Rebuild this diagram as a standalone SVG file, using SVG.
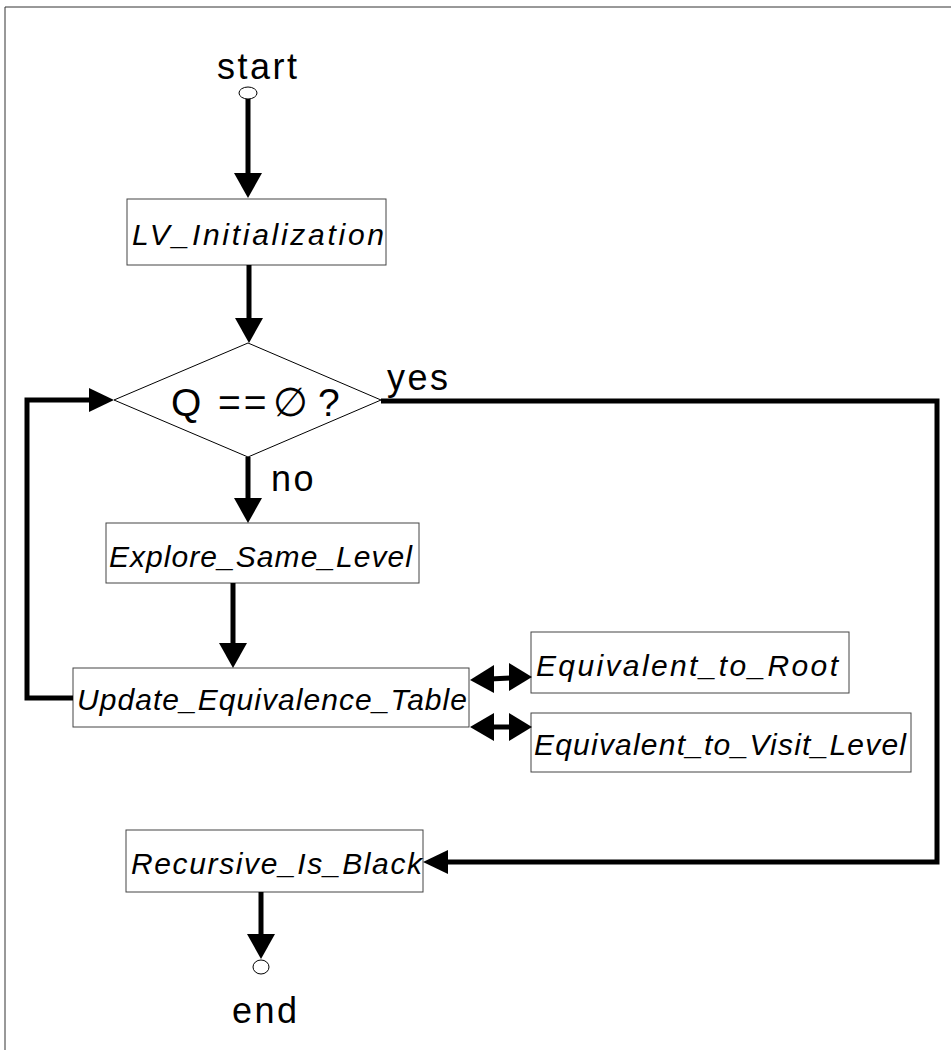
<svg xmlns="http://www.w3.org/2000/svg" width="951" height="1050" viewBox="0 0 951 1050">
<style>
.box{fill:#fff;stroke:#444;stroke-width:1}
.lbl{font-family:"Liberation Sans",Arial,sans-serif;font-style:italic;font-size:30px;fill:#000}
.plain{font-family:"Liberation Sans",Arial,sans-serif;font-size:36px;letter-spacing:2.5px;fill:#000}
.conn{fill:none;stroke:#000;stroke-width:5}
.head{fill:#000;stroke:none}
</style>
<rect x="0" y="0" width="951" height="1050" fill="#fff"/>
<path d="M5 1050 V7 H951" fill="none" stroke="#333" stroke-width="1"/>
<g id="start">
<text class="plain" x="217" y="79">start</text>
<ellipse cx="248" cy="93" rx="9" ry="6" fill="#fff" stroke="#000" stroke-width="1"/>
</g>
<g id="lv_init">
<rect class="box" x="127" y="199" width="259" height="66"/>
<text class="lbl" x="132" y="245" textLength="252" lengthAdjust="spacing">LV_Initialization</text>
</g>
<g id="decision">
<polygon points="248,343 381,400 248,457 114,400" fill="#fff" stroke="#000" stroke-width="1"/>
<text class="plain" y="416" style="font-size:39px;letter-spacing:0"><tspan x="171">Q</tspan><tspan x="218" style="letter-spacing:3px">==</tspan><tspan x="273" style="font-family:'DejaVu Sans',sans-serif;font-size:40px;font-weight:200">∅</tspan><tspan x="318">?</tspan></text>
</g>
<g id="explore">
<rect class="box" x="106" y="523" width="313" height="60"/>
<text class="lbl" x="109" y="567" textLength="303" lengthAdjust="spacing">Explore_Same_Level</text>
</g>
<g id="update">
<rect class="box" x="73" y="668" width="396" height="59"/>
<text class="lbl" x="77" y="710" textLength="390" lengthAdjust="spacing">Update_Equivalence_Table</text>
</g>
<g id="eq_root">
<rect class="box" x="531" y="632" width="318" height="61"/>
<text class="lbl" x="536" y="676" textLength="302" lengthAdjust="spacing">Equivalent_to_Root</text>
</g>
<g id="eq_visit">
<rect class="box" x="531" y="713" width="380" height="59"/>
<text class="lbl" x="534" y="755" textLength="372" lengthAdjust="spacing">Equivalent_to_Visit_Level</text>
</g>
<g id="recursive">
<rect class="box" x="126" y="830" width="297" height="62"/>
<text class="lbl" x="131" y="874" textLength="291" lengthAdjust="spacing">Recursive_Is_Black</text>
</g>
<g id="end">
<ellipse cx="261" cy="967" rx="8" ry="7" fill="#fff" stroke="#000" stroke-width="1"/>
<text class="plain" x="232" y="1023">end</text>
</g>
<g id="connectors">
<line class="conn" x1="248" y1="99" x2="248" y2="175"/>
<polygon class="head" points="234,173 262,173 248,198"/>
<line class="conn" x1="249" y1="265" x2="249" y2="320"/>
<polygon class="head" points="235,318 263,318 249,343"/>
<line class="conn" x1="248" y1="457" x2="248" y2="500"/>
<polygon class="head" points="234,498 262,498 248,523"/>
<text class="plain" x="271" y="491">no</text>
<line class="conn" x1="233" y1="583" x2="233" y2="645"/>
<polygon class="head" points="219,643 247,643 233,668"/>
<polyline class="conn" points="73,698 27,698 27,400 91,400"/>
<polygon class="head" points="89,388 89,412 114,400"/>
<polyline class="conn" points="381,401 937,401 937,862 446,862"/>
<polygon class="head" points="448,850 448,874 423,862"/>
<text class="plain" x="387" y="390">yes</text>
<line class="conn" x1="261" y1="892" x2="261" y2="936"/>
<polygon class="head" points="247,934 275,934 261,959"/>
<line class="conn" x1="490" y1="679" x2="512" y2="678"/>
<polygon class="head" points="470,680 494,665 494,693"/>
<polygon class="head" points="532,677 509,663 509,691"/>
<line class="conn" x1="490" y1="727" x2="512" y2="727"/>
<polygon class="head" points="470,727 494,713 494,741"/>
<polygon class="head" points="532,727 509,713 509,741"/>
</g>
</svg>
